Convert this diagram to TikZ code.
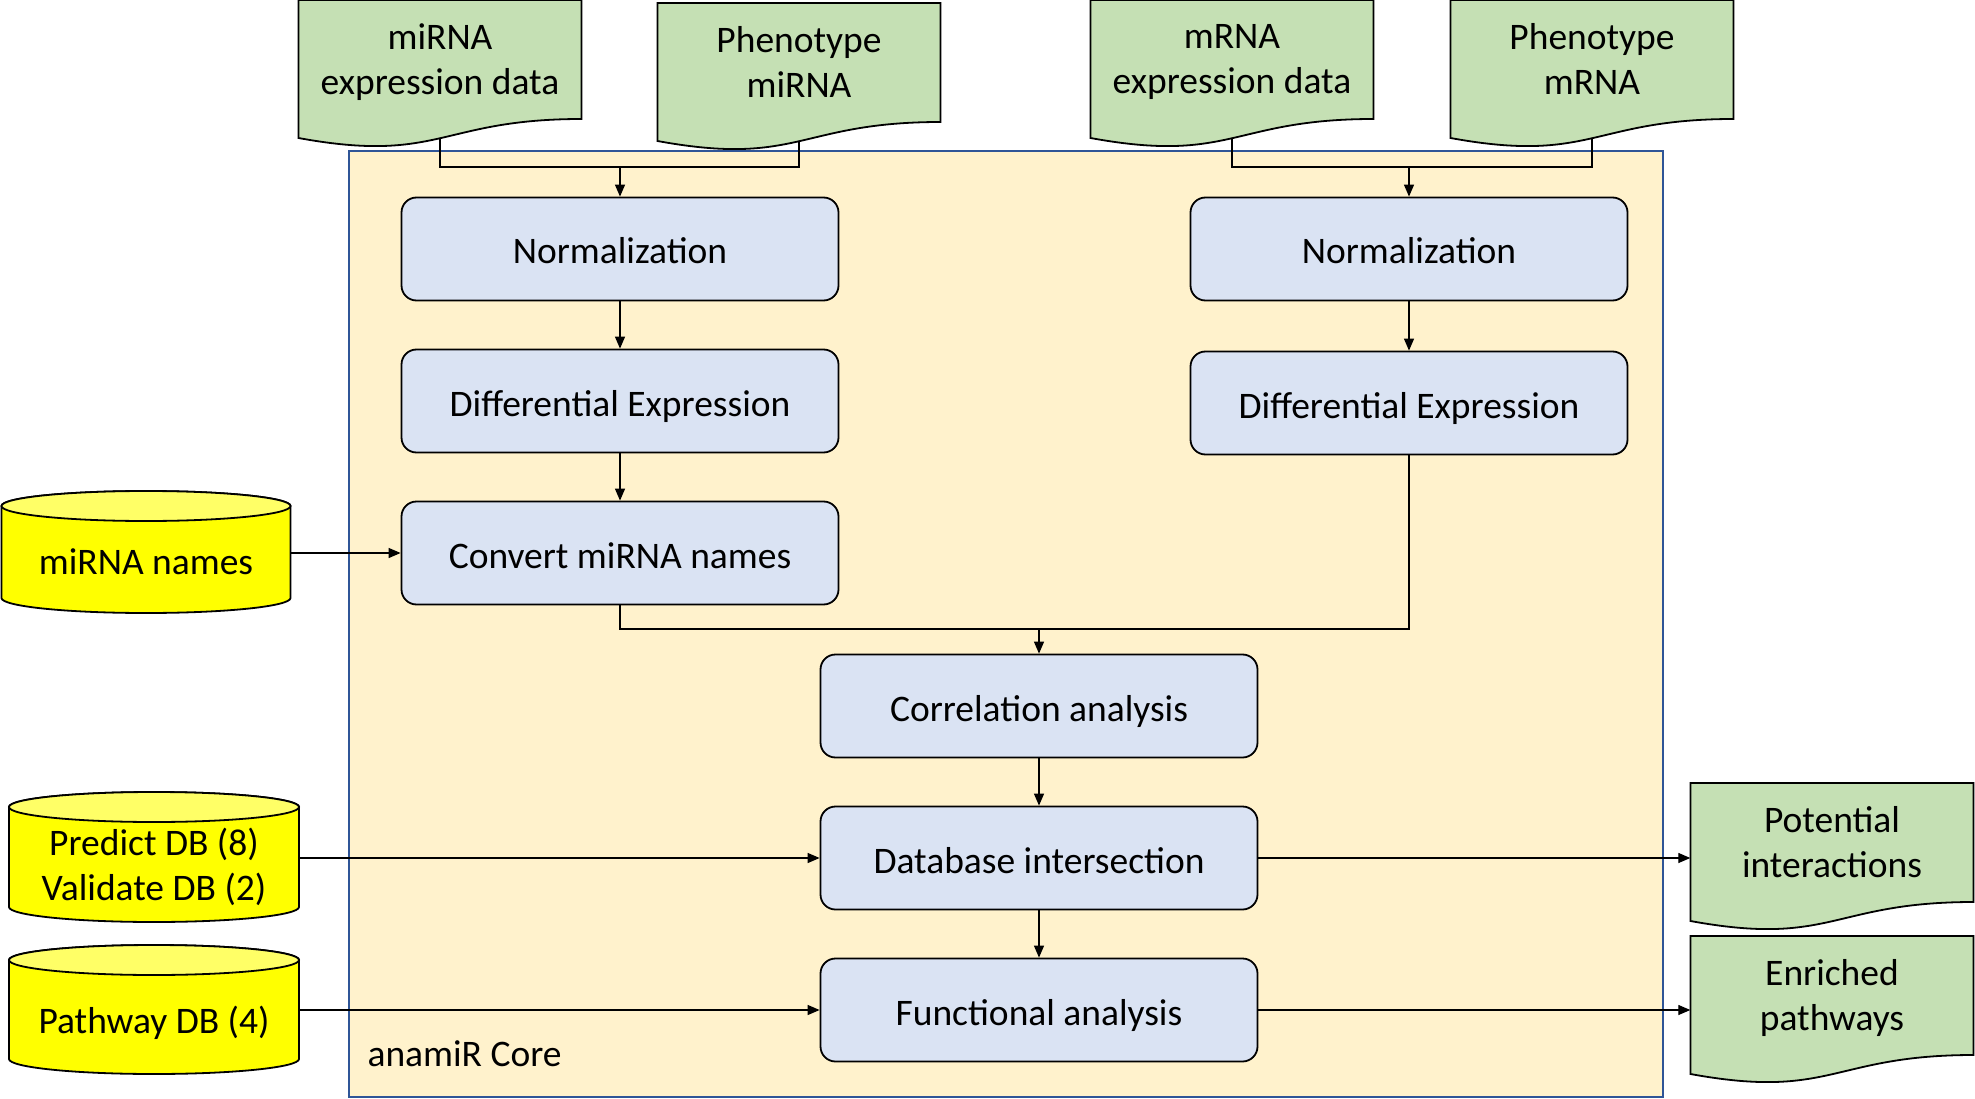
\documentclass[tikz,border=0pt]{standalone}
\usepackage{fontspec}
\setmainfont{Carlito}
\usepackage{tikz}
\usetikzlibrary{arrows.meta,calc,positioning}
\pgfdeclarelayer{bg}
\pgfsetlayers{bg,main}

\definecolor{corefill}{HTML}{FFF2CC}
\definecolor{coreline}{HTML}{2F5597}
\definecolor{stagefill}{HTML}{DAE3F3}
\definecolor{docfill}{HTML}{C5E0B4}
\definecolor{canfill}{HTML}{FFFF00}
\definecolor{cantopfill}{HTML}{FFFF66}

\newcommand{\diagfont}{\fontsize{37.5}{45}\selectfont}
\newcommand{\tstrut}{\rule[-7.5pt]{0pt}{45pt}}

% document shape: name, centre x, top y, text
\newcommand{\docnode}[4]{%
  \path[docline] ($(#2,-#3)+(-141.5,0)$) -- ++(283,0) -- ++(0,-119)
    .. controls ($(#2,-#3)+(0,-119)$) and ($(#2,-#3)+(0,-164)$) .. ($(#2,-#3)+(-141.5,-138)$) -- cycle;
  \node[doc] (#1) at (#2,-#3-63) {#4};
}

% database can: name, x, y (text centre), half width, up, down, text
\newcommand{\dbcan}[7]{%
  \path[canbody] ($(#2,-#3)+(-#4,#5-15)$) -- ($(#2,-#3)+(-#4,-#6+15)$)
    arc[start angle=180, end angle=360, x radius=#4, y radius=15]
    -- ($(#2,-#3)+(#4,#5-15)$)
    arc[start angle=0, end angle=180, x radius=#4, y radius=15] -- cycle;
  \path[cantop] ($(#2,-#3)+(0,#5-15)$) ellipse[x radius=#4, y radius=15];
  \node[dbtext, minimum width=2*#4] (#1) at (#2,-#3) {#7};
}

\begin{document}
\begin{tikzpicture}[
    x = 1pt, y = 1pt,
    every node/.style = {font=\diagfont},
    lines/.style = {execute at begin node=\tstrut, execute at end node=\tstrut},
    stage/.style = {rectangle, rounded corners=15pt, draw, line width=1.8pt, fill=stagefill,
                    minimum width=437pt, minimum height=103pt, lines},
    doc/.style = {rectangle, align=center, minimum width=283pt, minimum height=120pt, lines},
    docline/.style = {draw, line width=1.8pt, fill=docfill},
    dbtext/.style = {rectangle, align=center, minimum height=60pt, lines},
    canbody/.style = {draw, line width=1.8pt, fill=canfill},
    cantop/.style = {draw, line width=1.8pt, fill=cantopfill},
    core/.style = {rectangle, draw=coreline, line width=2pt, fill=corefill,
                   minimum width=1314pt, minimum height=946pt},
    link/.style = {line width=1.3pt},
    flow/.style = {line width=1.3pt, -{Triangle[length=12pt,width=10pt]}}
    ]

    \useasboundingbox (0,0) rectangle (1975,-1099);

    % inputs
    \docnode{mirexp}{440}{0}{miRNA\\expression data}
    \docnode{phmir}{799}{3}{Phenotype\\miRNA}
    \docnode{mrexp}{1232}{0}{mRNA\\expression data}
    \docnode{phmr}{1592}{0}{Phenotype\\mRNA}

    % outputs
    \docnode{potint}{1832}{783}{Potential\\interactions}
    \docnode{enrpath}{1832}{936}{Enriched\\pathways}

    % databases
    \dbcan{mirnames}{146}{559.5}{144.5}{68.5}{53.5}{miRNA names}
    \dbcan{targetdb}{154}{868.5}{145}{76.5}{53.5}{Predict DB (8)\\Validate DB (2)}
    \dbcan{pathdb}{154}{1018.5}{145}{73.5}{55.5}{Pathway DB (4)}

    % core steps
    \node[stage] (normmir) at (620,-249) {Normalization};
    \node[stage] (demir) at (620,-401) {Differential Expression};
    \node[stage] (convert) at (620,-553) {Convert miRNA names};
    \node[stage] (normmr) at (1409,-249) {Normalization};
    \node[stage] (demr) at (1409,-403) {Differential Expression};
    \node[stage] (corr) at (1039,-706) {Correlation analysis};
    \node[stage] (dbinter) at (1039,-858) {Database intersection};
    \node[stage] (funct) at (1039,-1010) {Functional analysis};

    \coordinate (mirjoin) at (620,-167);
    \coordinate (mrjoin) at (1409,-167);
    \coordinate (corrjoin) at (1039,-629);

    \begin{pgfonlayer}{bg}
        \node[core] (core) at (1006,-624) {};
        \node[anchor=west] (corelabel) at (364,-1054) {anamiR Core};

        \draw[link] (mirexp.south) |- (mirjoin) -| (phmir.south);
        \draw[link] (mrexp.south) |- (mrjoin) -| (phmr.south);
        \draw[flow] (mirjoin) -- (normmir);
        \draw[flow] (mrjoin) -- (normmr);
        \draw[flow] (normmir) -- (demir);
        \draw[flow] (demir) -- (convert);
        \draw[flow] (normmr) -- (demr);
        \draw[link] (convert.south) |- (corrjoin) -| (demr.south);
        \draw[flow] (corrjoin) -- (corr);
        \draw[flow] (corr) -- (dbinter);
        \draw[flow] (dbinter) -- (funct);

        \draw[flow] (mirnames.east |- convert) -- (convert);
        \draw[flow] (targetdb.east |- dbinter) -- (dbinter);
        \draw[flow] (pathdb.east |- funct) -- (funct);
        \draw[flow] (dbinter) -- (dbinter -| potint.west);
        \draw[flow] (funct) -- (funct -| enrpath.west);
    \end{pgfonlayer}

\end{tikzpicture}
\end{document}
